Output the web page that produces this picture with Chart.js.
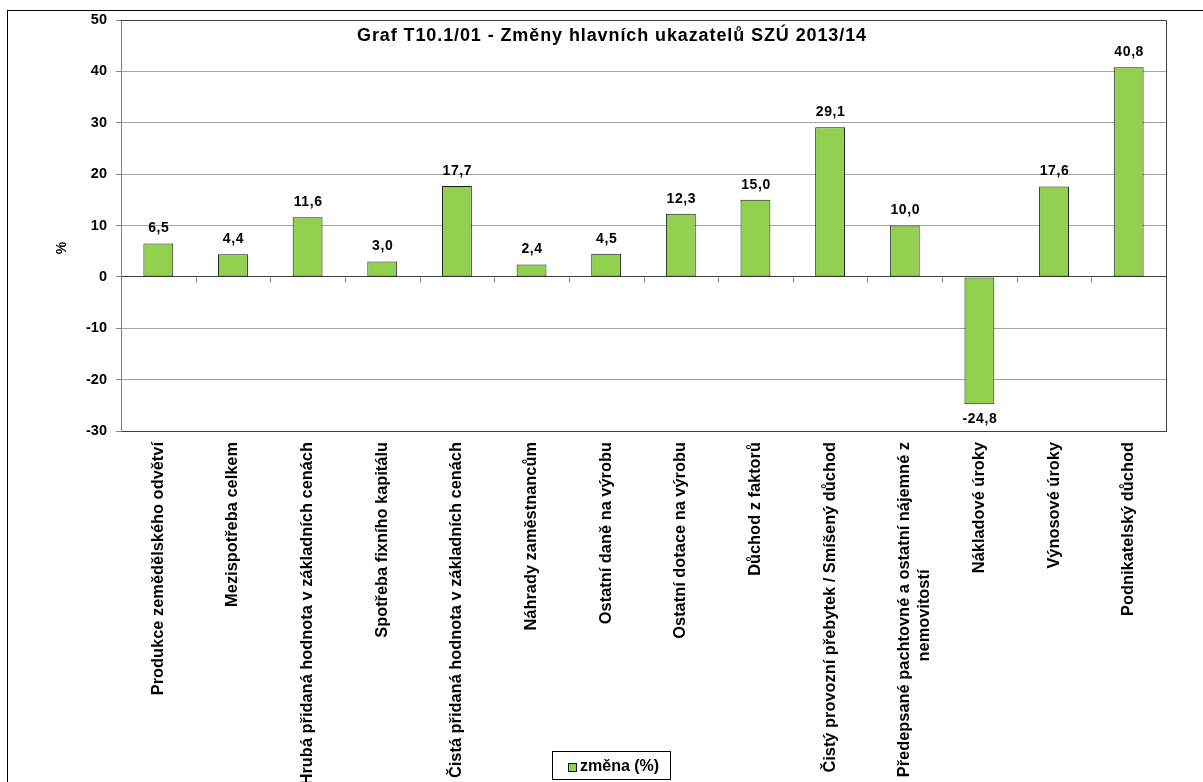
<!DOCTYPE html>
<html>
<head>
<meta charset="utf-8">
<script src="https://cdn.jsdelivr.net/npm/chart.js@4/dist/chart.umd.min.js"></script>
<style>
html, body { margin: 0; padding: 0; overflow: hidden; background: #fff; }
</style>
</head>
<body>
<canvas id="graf" width="1203" height="840"></canvas>
<script>
var kategorie = [
    "Produkce zemědělského odvětví",
    "Mezispotřeba celkem",
    "Hrubá přidaná hodnota v základních cenách",
    "Spotřeba fixního kapitálu",
    "Čistá přidaná hodnota v základních cenách",
    "Náhrady zaměstnancům",
    "Ostatní daně na výrobu",
    "Ostatní dotace na výrobu",
    "Důchod z faktorů",
    "Čistý provozní přebytek / Smíšený důchod",
    ["Předepsané pachtovné a ostatní nájemné z", "nemovitostí"],
    "Nákladové úroky",
    "Výnosové úroky",
    "Podnikatelský důchod"
];

var zmena = [6.5, 4.4, 11.6, 3.0, 17.7, 2.4, 4.5, 12.3, 15.0, 29.1, 10.0, -24.8, 17.6, 40.8];

var osaMin = -30;
var osaMax = 50;
var osaKrok = 10;

var nadpis = "Graf T10.1/01 - Změny hlavních ukazatelů SZÚ 2013/14";
var legenda = "změna (%)";

var pismo = "'Liberation Sans', Arial, sans-serif";

// druhy radek popisku posunout na stred (jako v Excelu)
function popisek(value, index) {
    var l = kategorie[index];
    if (Array.isArray(l)) {
        return [l[0], l[1] + '\u00a0'.repeat(28)];
    }
    return l;
}

// popisky, ramecek, nadpis a legenda kreslene primo do canvasu
var doplnky = {
    id: 'doplnky',
    beforeDraw: function (chart) {
        var ctx = chart.ctx;
        ctx.save();
        ctx.fillStyle = '#ffffff';
        ctx.fillRect(0, 0, chart.width, chart.height);
        ctx.strokeStyle = '#000000';
        ctx.lineWidth = 1;
        ctx.strokeRect(7.5, 10.5, 1400, 1000);
        ctx.restore();
    },
    beforeDatasetsDraw: function (chart) {
        var ctx = chart.ctx;
        var a = chart.chartArea;
        var xs = chart.scales.x;
        var ys = chart.scales.y;
        var y0 = Math.round(ys.getPixelForValue(0)) + 0.5;
        ctx.save();
        ctx.strokeStyle = '#808080';
        ctx.lineWidth = 1;
        ctx.beginPath();
        for (var i = 1; i <= kategorie.length; i++) {
            var xx = i < kategorie.length ? (xs.getPixelForValue(i - 1) + xs.getPixelForValue(i)) / 2 : a.right;
            xx = Math.round(xx) + 0.5;
            ctx.moveTo(xx, y0);
            ctx.lineTo(xx, y0 + 5);
        }
        ctx.stroke();
        ctx.strokeStyle = '#404040';
        ctx.beginPath();
        ctx.moveTo(a.left, a.top + 0.5);
        ctx.lineTo(a.right + 0.5, a.top + 0.5);
        ctx.lineTo(a.right + 0.5, a.bottom);
        ctx.stroke();
        ctx.restore();
    },
    afterDatasetsDraw: function (chart) {
        var ctx = chart.ctx;
        var meta = chart.getDatasetMeta(0);
        ctx.save();
        ctx.letterSpacing = '0.6px';
        ctx.font = "bold 14px " + pismo;
        ctx.fillStyle = '#000000';
        ctx.textAlign = 'center';
        ctx.textBaseline = 'middle';
        meta.data.forEach(function (bar, i) {
            var v = zmena[i];
            var txt = v.toFixed(1).replace('.', ',');
            var yy = v >= 0 ? bar.y - 15 : bar.y + 15;
            ctx.fillText(txt, bar.x + 0.5, yy);
        });

        // nadpis
        ctx.letterSpacing = '0.9px';
        ctx.font = "bold 18px " + pismo;
        ctx.fillText(nadpis, 612, 36);
        ctx.letterSpacing = '0px';

        // titulek osy y
        ctx.save();
        ctx.translate(62, 248);
        ctx.rotate(-Math.PI / 2);
        ctx.font = "bold 14px " + pismo;
        ctx.fillText("%", 0, 0);
        ctx.restore();

        // legenda
        ctx.strokeStyle = '#000000';
        ctx.lineWidth = 1;
        ctx.fillStyle = '#ffffff';
        ctx.fillRect(552.5, 751.5, 118, 28);
        ctx.strokeRect(552.5, 751.5, 118, 28);
        ctx.fillStyle = '#92d050';
        ctx.fillRect(568.5, 763.5, 8, 8);
        ctx.strokeStyle = '#1a1a1a';
        ctx.strokeRect(568.5, 763.5, 8, 8);
        ctx.fillStyle = '#000000';
        ctx.textAlign = 'left';
        ctx.font = "bold 16px " + pismo;
        ctx.fillText(legenda, 580, 767);
        ctx.restore();
    }
};

var ctx = document.getElementById("graf").getContext("2d");

new Chart(ctx, {
    type: 'bar',
    data: {
        labels: kategorie,
        datasets: [{
            label: legenda,
            data: zmena,
            backgroundColor: '#92d050',
            borderColor: '#1a1a1a',
            borderWidth: 1,
            borderSkipped: false,
            barPercentage: 0.4,
            categoryPercentage: 1.0
        }]
    },
    options: {
        responsive: false,
        animation: false,
        devicePixelRatio: 1,
        layout: {
            padding: { left: 0, top: 20, right: 37, bottom: 0 }
        },
        plugins: {
            legend: { display: false },
            title: { display: false },
            tooltip: { enabled: false }
        },
        scales: {
            x: {
                grid: { display: false, drawTicks: false },
                border: { display: true, color: '#404040' },
                ticks: {
                    autoSkip: false,
                    maxRotation: 90,
                    minRotation: 90,
                    padding: 11,
                    color: '#000000',
                    font: { family: pismo, size: 16.4, weight: 'bold', lineHeight: 1.2 },
                    callback: popisek
                },
                afterFit: function (scale) { scale.height = 840 - 431; }
            },
            y: {
                min: osaMin,
                max: osaMax,
                ticks: {
                    stepSize: osaKrok,
                    padding: 9,
                    color: '#000000',
                    font: { family: pismo, size: 14.5, weight: 'bold' }
                },
                grid: {
                    tickLength: 5,
                    color: function (c) {
                        if (c.tick && (c.tick.value === 0 || c.tick.value === osaMax || c.tick.value === osaMin)) return '#404040';
                        return '#a6a6a6';
                    },
                    tickColor: '#808080'
                },
                border: { display: true, color: '#808080' },
                afterFit: function (scale) { scale.width = 121; }
            }
        }
    },
    plugins: [doplnky]
});
</script>
</body>
</html>
